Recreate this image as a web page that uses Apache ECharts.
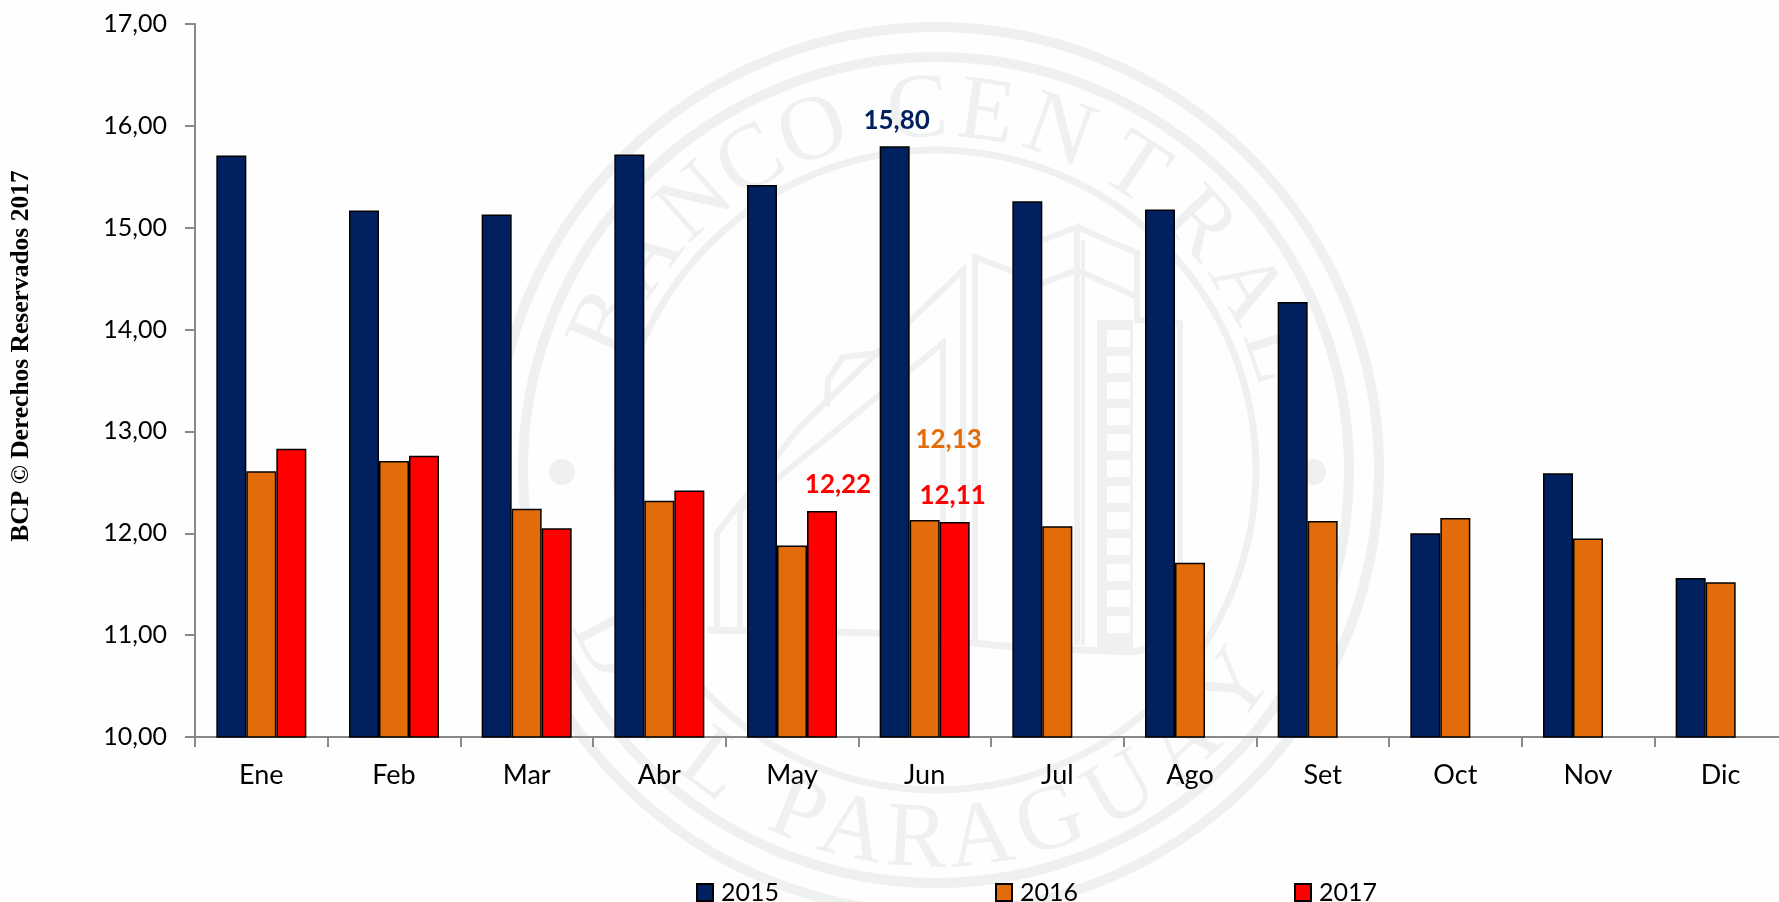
<!DOCTYPE html>
<html>
<head>
<meta charset="utf-8">
<title>BCP</title>
<style>
    html, body { margin: 0; padding: 0; background: #fefefe; overflow: hidden; }
    #Root { width: 1779px; height: 902px; }
</style>
<script src="https://cdn.jsdelivr.net/npm/echarts@6/dist/echarts.min.js"></script>
</head>
<body>
<div id="Root"></div>
<script>
const months = ['Ene', 'Feb', 'Mar', 'Abr', 'May', 'Jun', 'Jul', 'Ago', 'Set', 'Oct', 'Nov', 'Dic']
const yearNames = ['2015', '2016', '2017']
const values2015 = [15.71, 15.17, 15.13, 15.72, 15.42, 15.80, 15.26, 15.18, 14.27, 12.00, 12.59, 11.56]
const values2016 = [12.61, 12.71, 12.24, 12.32, 11.88, 12.13, 12.07, 11.71, 12.12, 12.15, 11.95, 11.52]
const values2017 = [12.83, 12.76, 12.05, 12.42, 12.22, 12.11, null, null, null, null, null, null]

const colors = ['#002060', '#E36C0A', '#FF0000']
const fontName = 'Lato, "Open Sans", sans-serif'
const sealColor = '#eef1f0'

// labelled bars: month index and label offset
const labels2015 = { 5: [2, -8] }
const labels2016 = { 5: [24, -62] }
const labels2017 = { 4: [16, -8], 5: [-2, -8] }

function BuildBarData(values, labelled, color) {
    return values.map(function (v, i) {
        if (!labelled[i]) return v
        return {
            value: v,
            label: {
                show: true,
                position: 'top',
                offset: labelled[i],
                color: color,
                fontFamily: fontName,
                fontSize: 26,
                fontWeight: 'bold',
                formatter: function (p) { return p.value.toFixed(2).replace('.', ',') }
            }
        }
    })
}

function BuildBar(name, values, labelled, color) {
    return {
        name: name,
        type: 'bar',
        barWidth: 30,
        barGap: 0,
        itemStyle: { color: color, borderColor: '#000', borderWidth: 1.5 },
        data: BuildBarData(values, labelled, color)
    }
}

//#region seal behind the chart
const sealX = 936
const sealY = 470
const topLetters = [['B', -66], ['A', -54], ['N', -42], ['C', -31], ['O', -20], ['C', -3], ['E', 8], ['N', 20], ['T', 33.5], ['R', 47], ['A', 59.6], ['L', 71]]
const bottomLetters = [['D', -62], ['E', -50], ['L', -37], ['P', -22], ['A', -13], ['R', -3], ['A', 7], ['G', 18], ['U', 30], ['A', 42], ['Y', 54]]

function Ring(r, width) {
    return {
        type: 'circle', z: -1, silent: true,
        shape: { cx: sealX, cy: sealY, r: r },
        style: { fill: 'none', stroke: sealColor, lineWidth: width }
    }
}

function Line(points, width) {
    return {
        type: 'polyline', z: -1, silent: true,
        shape: { points: points },
        style: { fill: 'none', stroke: sealColor, lineWidth: width || 6 }
    }
}

function ArcLetters(letters, r, bottom) {
    return letters.map(function (item) {
        let rad = item[1] * Math.PI / 180
        return {
            type: 'text', z: -1, silent: true,
            x: sealX + r * Math.sin(rad),
            y: sealY + (bottom ? r * Math.cos(rad) : -r * Math.cos(rad)),
            rotation: bottom ? rad : -rad,
            style: {
                text: item[0],
                fill: sealColor,
                font: '92px "Liberation Serif", serif',
                align: 'center',
                verticalAlign: 'middle'
            }
        }
    })
}

function BuildSeal() {
    let items = [Ring(443, 10), Ring(413, 10), Ring(320, 7)]
    items = items.concat(ArcLetters(topLetters, 358, false))
    items = items.concat(ArcLetters(bottomLetters, 372, true))
    // side dots
    items.push({ type: 'circle', z: -1, silent: true, shape: { cx: 562, cy: 472, r: 13 }, style: { fill: sealColor } })
    items.push({ type: 'circle', z: -1, silent: true, shape: { cx: 1313, cy: 472, r: 13 }, style: { fill: sealColor } })
    // building
    items.push(Line([[975, 640], [975, 257], [1043, 283], [1077, 270], [1137, 297]]))
    items.push(Line([[1077, 645], [1077, 227], [1043, 240]]))
    items.push(Line([[1083, 645], [1083, 240]], 4))
    items.push(Line([[1077, 227], [1137, 253], [1137, 320], [1180, 323], [1180, 645]]))
    items.push(Line([[963, 636], [963, 270], [800, 427], [717, 533], [717, 628]]))
    items.push(Line([[943, 634], [943, 343], [800, 460], [740, 510], [740, 630]]))
    items.push(Line([[880, 353], [843, 357], [828, 380], [827, 407]]))
    items.push(Line([[707, 630], [877, 633], [1013, 647], [1133, 652], [1190, 640]], 7))
    items.push({
        type: 'rect', z: -1, silent: true,
        shape: { x: 1097, y: 320, width: 36, height: 330 },
        style: { fill: sealColor }
    })
    for (let y = 330; y < 640; y += 26) {
        items.push({
            type: 'rect', z: -1, silent: true,
            shape: { x: 1107, y: y, width: 23, height: 17 },
            style: { fill: '#fefefe' }
        })
    }
    return items
}
//#endregion

let _Chart = echarts.init(document.getElementById('Root'), null, { renderer: 'canvas' })

_Chart.setOption({
    animation: false,
    backgroundColor: '#fefefe',
    textStyle: { fontFamily: fontName },
    grid: { left: 195, top: 24, width: 1592, height: 713, containLabel: false, outerBoundsMode: 'none' },
    legend: {
        left: 696,
        top: 880,
        padding: 0,
        icon: 'rect',
        selectedMode: false,
        itemWidth: 16,
        itemHeight: 17,
        itemGap: 216,
        data: yearNames,
        textStyle: { color: '#000', fontFamily: fontName, fontSize: 25, padding: [0, 0, 0, 3] }
    },
    xAxis: {
        type: 'category',
        data: months,
        axisLine: { lineStyle: { color: '#898989', width: 2 } },
        axisTick: { show: true, alignWithLabel: false, length: 10, lineStyle: { color: '#898989', width: 2 } },
        axisLabel: { color: '#000', fontFamily: fontName, fontSize: 27, margin: 25, interval: 0 }
    },
    yAxis: {
        type: 'value',
        min: 10,
        max: 17,
        interval: 1,
        splitLine: { show: false },
        axisLine: { show: true, lineStyle: { color: '#898989', width: 2 } },
        axisTick: { show: true, length: 10, lineStyle: { color: '#898989', width: 2 } },
        axisLabel: {
            color: '#000',
            fontFamily: fontName,
            fontSize: 25,
            margin: 28,
            formatter: function (v) { return v.toFixed(2).replace('.', ',') }
        }
    },
    series: [
        BuildBar(yearNames[0], values2015, labels2015, colors[0]),
        BuildBar(yearNames[1], values2016, labels2016, colors[1]),
        BuildBar(yearNames[2], values2017, labels2017, colors[2])
    ],
    graphic: BuildSeal().concat([{
        type: 'text',
        x: 21,
        y: 356,
        rotation: Math.PI / 2,
        style: {
            text: 'BCP © Derechos Reservados 2017',
            fill: '#000',
            font: 'bold 25.5px "Liberation Serif", serif',
            align: 'center',
            verticalAlign: 'middle'
        }
    }])
})
</script>
</body>
</html>
